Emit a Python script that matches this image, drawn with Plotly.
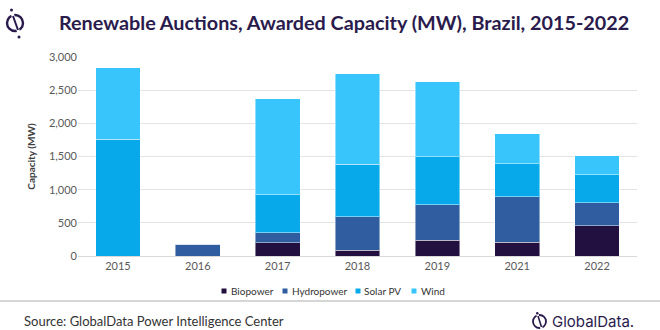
import plotly.graph_objects as go

# Awarded capacity in renewable auctions, MW
years = ["2015", "2016", "2017", "2018", "2019", "2021", "2022"]
biopower = [0, 0, 200, 90, 240, 205, 455]
hydropower = [0, 180, 150, 500, 530, 685, 350]
solar_pv = [1760, 0, 575, 795, 730, 500, 420]
wind = [1080, 0, 1445, 1360, 1125, 450, 290]

series_names = ["Biopower", "Hydropower", "Solar PV", "Wind"]
series_values = [biopower, hydropower, solar_pv, wind]
series_colors = ["#221041", "#2f5d9f", "#07a9ea", "#37c5fb"]

fig = go.Figure()
for name, vals, color in zip(series_names, series_values, series_colors):
    fig.add_trace(go.Bar(
        x=years, y=vals, name=name,
        marker=dict(color=color, line=dict(color="rgba(255,255,255,0.45)", width=1)),
        width=0.56,
    ))

font_main = "Lato, 'Open Sans', sans-serif"
ink = "#2a1b4d"

fig.update_layout(
    barmode="stack",
    width=660, height=330,
    margin=dict(l=78, r=23, t=57, b=74),
    paper_bgcolor="white", plot_bgcolor="white",
    font=dict(family=font_main, color="#595959", size=11),
    showlegend=False,
    xaxis=dict(
        showgrid=False, showline=True, linecolor="#d9d9d9", linewidth=1,
        ticks="", tickfont=dict(size=11, color="#595959"),
    ),
    yaxis=dict(
        range=[0, 3000], dtick=500, tickformat=",",
        showgrid=True, gridcolor="#e3e3e3", gridwidth=1,
        zeroline=False, showline=False, ticks="",
        tickfont=dict(size=11, color="#595959"),
        title=dict(text="<b>Capacity (MW)</b>", font=dict(size=10, color="#404040"), standoff=11),
    ),
)

# Pixel -> paper coordinate helpers (plot area spans 78..637 x 57..256)
def px_x(px):
    return (px - 78) / 559

def px_y(py):
    return (256 - py) / 199

# Header title
fig.add_annotation(
    text="<b>Renewable Auctions, Awarded Capacity (MW), Brazil, 2015-2022</b>",
    xref="paper", yref="paper", x=px_x(57), y=px_y(22),
    xanchor="left", yanchor="middle", showarrow=False,
    font=dict(family=font_main, size=19.8, color=ink),
)

# Header icon: broken circle with a slash and two dots
fig.add_shape(type="circle", xref="paper", yref="paper",
              x0=px_x(7), x1=px_x(23), y0=px_y(31), y1=px_y(15),
              line=dict(color=ink, width=2.4))
fig.add_shape(type="line", xref="paper", yref="paper",
              x0=px_x(12), y0=px_y(13), x1=px_x(19), y1=px_y(33),
              line=dict(color="white", width=3))
fig.add_shape(type="line", xref="paper", yref="paper",
              x0=px_x(13), y0=px_y(16), x1=px_x(18), y1=px_y(30),
              line=dict(color=ink, width=2))
for cx, cy in [(11.5, 10), (19, 37)]:
    fig.add_shape(type="circle", xref="paper", yref="paper",
                  x0=px_x(cx - 1.5), x1=px_x(cx + 1.5), y0=px_y(cy + 1.5), y1=px_y(cy - 1.5),
                  fillcolor=ink, line=dict(width=0))

# Compact legend row: small square swatch followed by the series name
legend_starts = [221.5, 282.5, 355.5, 411.5]
legend_y = 291
for name, color, x0 in zip(series_names, series_colors, legend_starts):
    fig.add_shape(type="rect", xref="paper", yref="paper",
                  x0=px_x(x0), x1=px_x(x0 + 5), y0=px_y(legend_y + 2.5), y1=px_y(legend_y - 2.5),
                  fillcolor=color, line=dict(width=0))
    fig.add_annotation(
        text=name, xref="paper", yref="paper", x=px_x(x0 + 7), y=px_y(legend_y),
        xanchor="left", yanchor="middle", showarrow=False,
        font=dict(family=font_main, size=10, color="#333333"),
    )

# Footer separator
fig.add_shape(type="line", xref="paper", yref="paper",
              x0=px_x(0), x1=px_x(660), y0=px_y(301), y1=px_y(301),
              line=dict(color="#c8c8c8", width=1.5))

fig.add_annotation(
    text="Source: GlobalData Power Intelligence Center",
    xref="paper", yref="paper", x=px_x(22), y=px_y(321),
    xanchor="left", yanchor="middle", showarrow=False,
    font=dict(family=font_main, size=13, color="#333333"),
)

# Footer brand mark
fig.add_shape(type="circle", xref="paper", yref="paper",
              x0=px_x(533), x1=px_x(546), y0=px_y(328), y1=px_y(315),
              line=dict(color=ink, width=1.8))
fig.add_shape(type="line", xref="paper", yref="paper",
              x0=px_x(537), y0=px_y(313), x1=px_x(542), y1=px_y(330),
              line=dict(color="white", width=2.5))
fig.add_shape(type="line", xref="paper", yref="paper",
              x0=px_x(538), y0=px_y(316), x1=px_x(541.5), y1=px_y(327),
              line=dict(color=ink, width=1.6))
fig.add_shape(type="circle", xref="paper", yref="paper",
              x0=px_x(536), x1=px_x(538.5), y0=px_y(314.5), y1=px_y(312),
              fillcolor=ink, line=dict(width=0))
fig.add_annotation(
    text="GlobalData.",
    xref="paper", yref="paper", x=px_x(550), y=px_y(321),
    xanchor="left", yanchor="middle", showarrow=False,
    font=dict(family="Inter, 'Noto Sans', sans-serif", size=15, color=ink),
)

fig.write_html("out.html")
